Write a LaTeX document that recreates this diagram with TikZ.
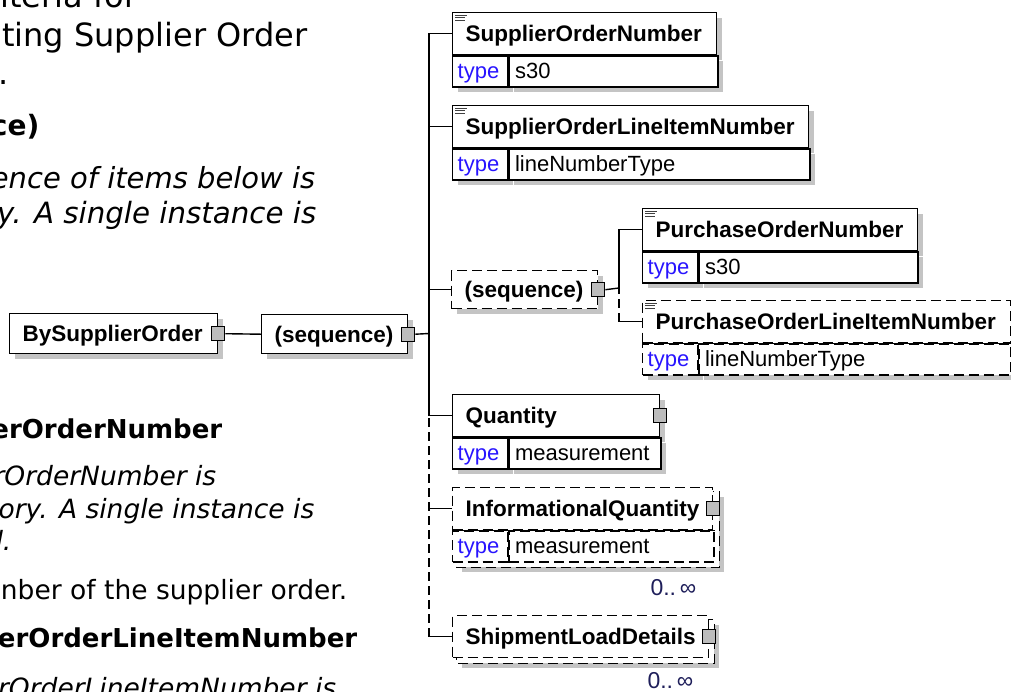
\documentclass[tikz,border=0pt]{standalone}
\usepackage{fontspec}
\usepackage{tikz}
\usetikzlibrary{shadows,backgrounds}
\newfontfamily\docfont{DejaVu Sans}
\newfontfamily\xsdfont{Liberation Sans}
\definecolor{shadowgray}{RGB}{196,196,196}
\definecolor{typeblue}{RGB}{40,20,255}
\definecolor{cardnavy}{RGB}{30,30,90}
\definecolor{boxgray}{RGB}{188,188,188}

\begin{document}
\begin{tikzpicture}[x=1pt,y=-1pt,line width=1.4pt,
    doc/.style={anchor=base east, inner sep=0pt},
    docreg/.style={doc, font=\docfont\fontsize{#1}{#1}\selectfont},
    docit/.style={doc, font=\docfont\itshape\fontsize{#1}{#1}\selectfont},
    docbf/.style={doc, font=\docfont\bfseries\fontsize{#1}{#1}\selectfont},
    shade/.style={drop shadow={shadow xshift=5pt,shadow yshift=-5pt,fill=shadowgray,opacity=1}},
    dashbox/.style={dash pattern=on 10pt off 5pt},
    dashline/.style={dash pattern=on 9pt off 5pt},
    elname/.style={draw, fill=white, anchor=north west, minimum height=42pt, inner xsep=13pt, inner ysep=0pt,
        text width=#1, align=left, text height=16pt, text depth=0pt, font=\xsdfont\bfseries\fontsize{22.5}{26}\selectfont},
    typelbl/.style={draw, fill=white, anchor=north west, minimum height=31pt, inner xsep=5pt, inner ysep=0pt,
        text width=45pt, text height=14pt, text depth=0pt, text=typeblue, font=\xsdfont\fontsize{22}{26}\selectfont},
    typeval/.style={typelbl, inner xsep=6pt, text width=#1, text=black},
    plusbox/.style={draw, fill=boxgray, line width=1pt, minimum width=13pt, minimum height=14pt, inner sep=0pt},
    annot/.style={line width=0.8pt, black!75},
    card/.style={anchor=base east, inner sep=0pt, text=cardnavy, font=\xsdfont\fontsize{23}{26}\selectfont}]
    \useasboundingbox (0,0) rectangle (1011,691);
    \clip (0,0) rectangle (1011,691);
    \begin{scope}[on background layer]
        \fill[white] (0,0) rectangle (1011,691);
    \end{scope}

    % document text, cut at the left edge
    \node[docreg=32] at(138,7)(t1){iteria for};
    \node[docreg=32] at(308,46)(t2){ting Supplier Order};
    \node[docreg=32] at(9,84)(t3){.};
    \node[docbf=28] at(40,135)(h1){ce)};
    \node[docit=29] at(316,188)(p1){ence of items below is};
    \node[docit=29.3] at(317,223)(p2){y. A single instance is};
    \node[docbf=26] at(223,438)(h2){erOrderNumber};
    \node[docit=26.5] at(217,485)(p3){rOrderNumber is};
    \node[docit=26.5] at(315,518)(p4){ory. A single instance is};
    \node[docit=26.5] at(12,550)(p5){d.};
    \node[docreg=26.5] at(348,599)(p6){nber of the supplier order.};
    \node[docbf=26] at(358,647)(h3){erOrderLineItemNumber};
    \node[docit=26.5] at(337,697)(p7){rOrderLineItemNumber is};

    % schema diagram
    \node[elname=182pt, minimum height=40pt, shade] at(9,313)(bso){BySupplierOrder};
    \node[elname=120pt, minimum height=39pt, shade] at(261,314)(seq1){(sequence)};
    \node[plusbox] at(bso.east)(bsoc){};
    \node[plusbox] at(seq1.east)(seq1c){};
    \draw (bsoc.east) -- (seq1.west);

    \node[elname=238pt, shade] at(452,12)(son){SupplierOrderNumber};
    \node[typelbl, shade] at(son.south west)(sont){type};
    \node[typeval=197pt, shade] at(sont.north east)(sonv){s30};

    \node[elname=330pt, shade] at(452,105)(solin){SupplierOrderLineItemNumber};
    \node[typelbl, shade] at(solin.south west)(solint){type};
    \node[typeval=289pt, shade] at(solint.north east)(solinv){lineNumberType};

    \node[elname=120pt, minimum height=38pt, dashbox, shade] at(451,270)(seq2){(sequence)};
    \node[plusbox] at(seq2.east)(seq2c){};

    \node[elname=249pt, shade] at(642,208)(pon){PurchaseOrderNumber};
    \node[typelbl, shade] at(pon.south west)(pont){type};
    \node[typeval=207pt, shade] at(pont.north east)(ponv){s30};

    \node[elname=342pt, dashbox, shade] at(642,300)(polin){PurchaseOrderLineItemNumber};
    \node[typelbl, dashbox, shade] at(polin.south west)(polint){type};
    \node[typeval=300pt, dashbox, shade] at(polint.north east)(polinv){lineNumberType};
    \draw (polint.north west) -- (polinv.north east) (polint.north east) -- (polint.south east);

    \node[elname=181pt, shade] at(452,394)(qty){Quantity};
    \node[typelbl, shade] at(qty.south west)(qtyt){type};
    \node[typeval=140pt, shade] at(qtyt.north east)(qtyv){measurement};
    \node[plusbox] at(qty.east)(qtyc){};

    \node[elname=234pt, dashbox] at(452,487)(iq){InformationalQuantity};
    \node[typelbl, dashbox] at(iq.south west)(iqt){type};
    \node[typeval=193pt, dashbox] at(iqt.north east)(iqv){measurement};
    \draw (iqt.north west) -- (iqv.north east) (iqt.north east) -- (iqt.south east);
    \node[plusbox] at(iq.east)(iqc){};
    \node[card] at(697,595)(iqcard){0..\,∞};

    \node[elname=230pt, dashbox] at(452,615)(sld){ShipmentLoadDetails};
    \node[plusbox] at(sld.east)(sldc){};
    \node[card] at(694,688)(sldcard){0..\,∞};

    % copies behind the repeating elements
    \begin{scope}[on background layer]
        \draw[dashbox, fill=white, shade] ([shift={(4.5,4.5)}]iq.north west) rectangle ([shift={(4.5,4.5)}]iqv.south east);
        \draw[dashbox, fill=white, shade] ([shift={(4.5,4.5)}]sld.north west) rectangle ([shift={(4.5,4.5)}]sld.south east);
    \end{scope}

    % annotation marks
    \foreach \b in {son,solin,pon,polin}{
        \draw[annot] ([shift={(3,3)}]\b.north west) -- ++(12,0);
        \draw[annot] ([shift={(3,5.5)}]\b.north west) -- ++(10,0);
        \draw[annot] ([shift={(3,8)}]\b.north west) -- ++(10,0);
    }

    % connectors
    \coordinate (tr) at(429,333.5);
    \draw (seq1c.east) -- (tr);
    \foreach \b in {son,solin,seq2,qty} \draw (\b.west) -| (tr);
    \draw (iq.west) -- (iq.west -| tr);
    \draw (sld.west) -- (sld.west -| tr);
    \draw[dashline] (sld.west -| tr) -- (qty.west -| tr);

    \coordinate (tr2) at(619,288);
    \draw (seq2c.east) -- (tr2);
    \draw (pon.west) -| (tr2);
    \draw (polin.west) -- (polin.west -| tr2);
    \draw[dashline] (polin.west -| tr2) -- (tr2);
\end{tikzpicture}
\end{document}
